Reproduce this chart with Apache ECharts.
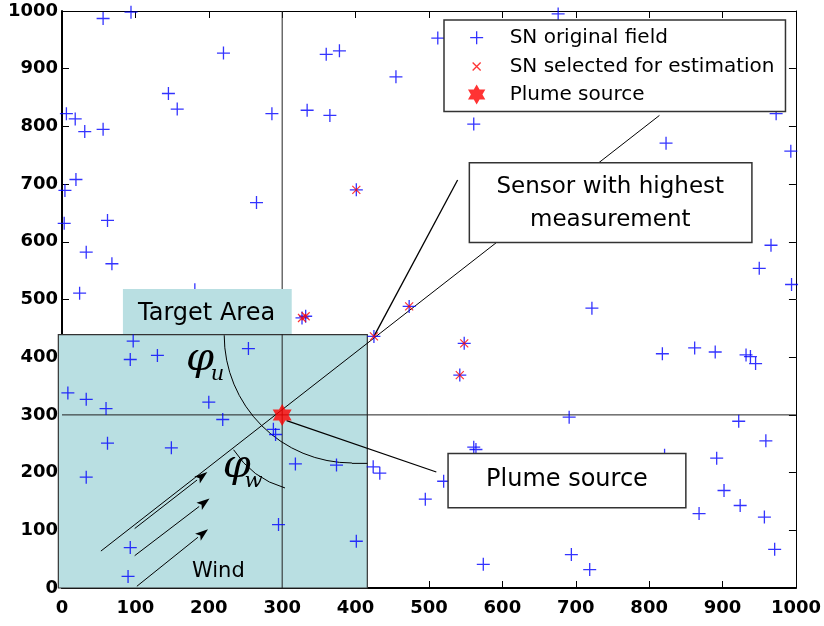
<!DOCTYPE html>
<html><head><meta charset="utf-8">
<script src="https://cdn.jsdelivr.net/npm/echarts@6/dist/echarts.min.js"></script>
<style>html,body{margin:0;padding:0;background:#fff}#c{width:824px;height:626px}</style>
</head><body><div id="c"></div>
<script>
// ---------------- data ----------------
const snOriginal = [
  [56,987],[94,998],[220,927],[145,857],[157,830],[286,822],[6,822],[18,813],[31,791],[56,795],
  [19,708],[4,689],[265,668],[360,925],[378,931],[455,886],[512,953],[334,828],[365,819],[561,804],
  [401,690],[676,995],[973,822],[823,771],[993,757],
  [3,632],[62,637],[33,582],[68,562],[24,511],[181,517],[97,428],[93,396],[130,403],[254,415],
  [8,338],[33,327],[200,322],[60,311],[219,292],[62,251],[149,243],[33,192],[93,70],[90,20],
  [288,275],[291,266],[318,215],[374,213],[424,210],[433,199],[295,110],[401,81],[495,154],[520,185],
  [561,244],[564,240],[574,41],[691,296],[922,289],[959,255],[821,230],[892,225],[902,169],[924,143],
  [868,129],[957,123],[971,67],[694,58],[719,32],[966,594],[950,554],[994,526],[722,485],[818,406],
  [862,416],[890,409],[932,404],[938,401],[945,389],
  [327,468],[332,471],[425,436],[473,488],[548,424],[542,369]
];
const snSelected = [[401,690],[327,468],[332,471],[425,436],[473,488],[548,424],[542,369]];
const plumeSource = [[300,300]];
const axisMin = 0, axisMax = 1000, axisStep = 100;

// annotation geometry (data coordinates)
const targetArea = [[-5,0],[416,439]];
const sourceCross = [[[300,0],[300,1000]], [[0,300],[1000,300]]];
const windLine = [[53,64],[814,819]];
const windArrows = [[[99,103],[198,201]], [[99,56],[201,155]], [[102,3],[199,102]]];
const sensorCallout = [[425,436],[539,707]];
const sourceCallout = [[306,290],[510,201]];
const phiUArc = {c:[395,438], r:174, a0:Math.PI/2, a1:Math.PI, tail:[[395,216],[416,216]]};
const phiWArc = {c:[338,325], r:124, a0:1.85, a1:2.57};
const labelTarget = {box:[[83,440],[313,518]], text:'Target Area', at:[197,476]};
const labelSensor = {box:[[555,599],[940,737]], text:'Sensor with highest\nmeasurement', at:[747,667]};
const labelPlume = {box:[[526,139],[850,233]], text:'Plume source', at:[688,187]};
const labelWind = {text:'Wind', at:[213,29]};
const labelPhiU = {sym:'φ', sub:'u', at:[188,396], subAt:[212,370]};
const labelPhiW = {sym:'φ', sub:'w', at:[238,211], subAt:[261,185]};

// ---------------- drawing ----------------
const FONT = '"DejaVu Sans", sans-serif';
const SERIF = '"DejaVu Serif", "Liberation Serif", serif';
const plusPath = 'path://M0,6.5L13,6.5M6.5,0L6.5,13';
const crossPath = 'path://M0,0L8,8M8,0L0,8';
const starPath = 'path://M0,-10L2.887,-5L8.66,-5L5.77,0L8.66,5L2.887,5L0,10L-2.887,5L-8.66,5L-5.77,0L-8.66,-5L-2.887,-5Z';
const plusLegend = 'path://M-3.5,-3.5M16.5,16.5M0,6.5L13,6.5M6.5,0L6.5,13';
const crossLegend = 'path://M-6,-6M14,14M0,0L8,8M8,0L0,8';

function seg(api, pts, w, color) {
  return {type:'polyline', silent:true, shape:{points: pts.map(p => api.coord(p))},
          style:{stroke: color || '#000', lineWidth: w || 1, fill: null}};
}
function arrow(api, a) {
  const p0 = api.coord(a[0]), p1 = api.coord(a[1]);
  const dx = p1[0]-p0[0], dy = p1[1]-p0[1], L = Math.hypot(dx, dy), ux = dx/L, uy = dy/L;
  const hl = 13, hw = 4.5;
  const bx = p1[0]-ux*hl, by = p1[1]-uy*hl;
  return [
    {type:'polyline', silent:true, shape:{points:[p0,[bx,by]]}, style:{stroke:'#000', lineWidth:1, fill:null}},
    {type:'polygon', silent:true, shape:{points:[p1,[bx-uy*hw, by+ux*hw],[bx+ux*3, by+uy*3],[bx+uy*hw, by-ux*hw]]}, style:{fill:'#000'}}
  ];
}
function arc(api, a) {
  const c = api.coord(a.c), r = api.size([a.r, 0])[0];
  return {type:'arc', silent:true, shape:{cx:c[0], cy:c[1], r:r, startAngle:a.a0, endAngle:a.a1, clockwise:true},
          style:{stroke:'#000', lineWidth:1, fill:null}};
}
function rectEl(api, box, fill, stroke, lw) {
  const p0 = api.coord([box[0][0], box[1][1]]), p1 = api.coord([box[1][0], box[0][1]]);
  return {type:'rect', silent:true, shape:{x:p0[0], y:p0[1], width:p1[0]-p0[0], height:p1[1]-p0[1]},
          style:{fill: fill, stroke: stroke || null, lineWidth: lw || 0}};
}
function textEl(api, at, text, size, family, style, lh) {
  const p = api.coord(at);
  return {type:'text', silent:true, x:p[0], y:p[1],
          style:{text:text, fontSize:size, fontFamily:family, fontStyle: style || 'normal', fill:'#000',
                 align:'center', verticalAlign:'middle', lineHeight: lh || undefined}};
}

const layerBottom = (params, api) => ({type:'group', children:[
  rectEl(api, targetArea, '#b9dfe2', '#333', 1.2)
]});
const layerLines = (params, api) => {
  const ch = [];
  sourceCross.forEach(l => ch.push(seg(api, l, 1, '#222')));
  ch.push(seg(api, windLine, 1));
  windArrows.forEach(a => arrow(api, a).forEach(e => ch.push(e)));
  ch.push(seg(api, sensorCallout, 1.3));
  ch.push(seg(api, sourceCallout, 1.2));
  ch.push(arc(api, phiUArc));
  ch.push(seg(api, phiUArc.tail, 1));
  ch.push(arc(api, phiWArc));
  return {type:'group', children: ch};
};
const layerTop = (params, api) => {
  const ch = [];
  ch.push(rectEl(api, labelTarget.box, '#b9dfe2'));
  ch.push(textEl(api, labelTarget.at, labelTarget.text, 24, FONT));
  ch.push(rectEl(api, labelSensor.box, '#fff', '#333', 1.5));
  ch.push(textEl(api, labelSensor.at, labelSensor.text, 23, FONT, 'normal', 33));
  ch.push(rectEl(api, labelPlume.box, '#fff', '#333', 1.5));
  ch.push(textEl(api, labelPlume.at, labelPlume.text, 24, FONT));
  ch.push(textEl(api, labelWind.at, labelWind.text, 21, FONT));
  [labelPhiU, labelPhiW].forEach(l => {
    ch.push(textEl(api, l.at, l.sym, 40, SERIF, 'italic'));
    ch.push(textEl(api, l.subAt, l.sub, 21, SERIF, 'italic'));
  });
  return {type:'group', children: ch};
};

const tickLabel = {color:'#000', fontSize:18, fontWeight:'bold', fontFamily:FONT, formatter: v => String(v)};
const axisCommon = {type:'value', min:axisMin, max:axisMax, interval:axisStep,
  splitLine:{show:false}, axisTick:{show:true, inside:true, length:7, lineStyle:{color:'#000'}}};

const chart = echarts.init(document.getElementById('c'), null, {renderer:'canvas'});
chart.setOption({
  animation:false,
  backgroundColor:'#fff',
  grid:{left:62, right:27, top:11, bottom:38},
  xAxis:[
    Object.assign({}, axisCommon, {position:'bottom', axisLine:{show:true, onZero:false, lineStyle:{color:'#000', width:2}},
      axisLabel:Object.assign({margin:11}, tickLabel)}),
    Object.assign({}, axisCommon, {position:'top', axisLine:{show:true, onZero:false, lineStyle:{color:'#000', width:1}}, axisLabel:{show:false}})
  ],
  yAxis:[
    Object.assign({}, axisCommon, {position:'left', axisLine:{show:true, onZero:false, lineStyle:{color:'#000', width:2}},
      axisLabel:Object.assign({margin:4}, tickLabel)}),
    Object.assign({}, axisCommon, {position:'right', axisLine:{show:true, onZero:false, lineStyle:{color:'#000', width:1}}, axisLabel:{show:false}})
  ],
  legend:{
    orient:'vertical', left:444, top:20, z:10,
    padding:[7, 11, 7, 22], itemGap:7.5, itemWidth:56, itemHeight:20,
    backgroundColor:'#fff', borderColor:'#333', borderWidth:1.5, borderRadius:0,
    selectedMode:false,
    textStyle:{color:'#000', fontSize:20, fontFamily:FONT, lineHeight:20},
    itemStyle:{borderWidth:1.3},
    data:[
      {name:'SN original field', icon:plusLegend},
      {name:'SN selected for estimation', icon:crossLegend},
      {name:'Plume source', icon:starPath, itemStyle:{borderWidth:0}}
    ]
  },
  series:[
    {type:'custom', name:'area', z:1, data:[[0,0]], renderItem:layerBottom, silent:true},
    {type:'custom', name:'lines', z:2, data:[[0,0]], renderItem:layerLines, silent:true},
    {type:'scatter', name:'SN original field', z:3, data:snOriginal, symbol:plusPath, symbolSize:13,
      itemStyle:{color:'#0000ff', borderColor:'#0000ff', borderWidth:1.3}, silent:true},
    {type:'scatter', name:'SN selected for estimation', z:4, data:snSelected, symbol:crossPath, symbolSize:8,
      itemStyle:{color:'#ff0000', borderColor:'#ff0000', borderWidth:1.2}, silent:true},
    {type:'scatter', name:'Plume source', z:5, data:plumeSource, symbol:starPath, symbolSize:[19,22],
      itemStyle:{color:'#ff0000', borderColor:'#ff0000', borderWidth:0}, silent:true},
    {type:'custom', name:'labels', z:6, data:[[0,0]], renderItem:layerTop, silent:true}
  ]
});
</script></body></html>
